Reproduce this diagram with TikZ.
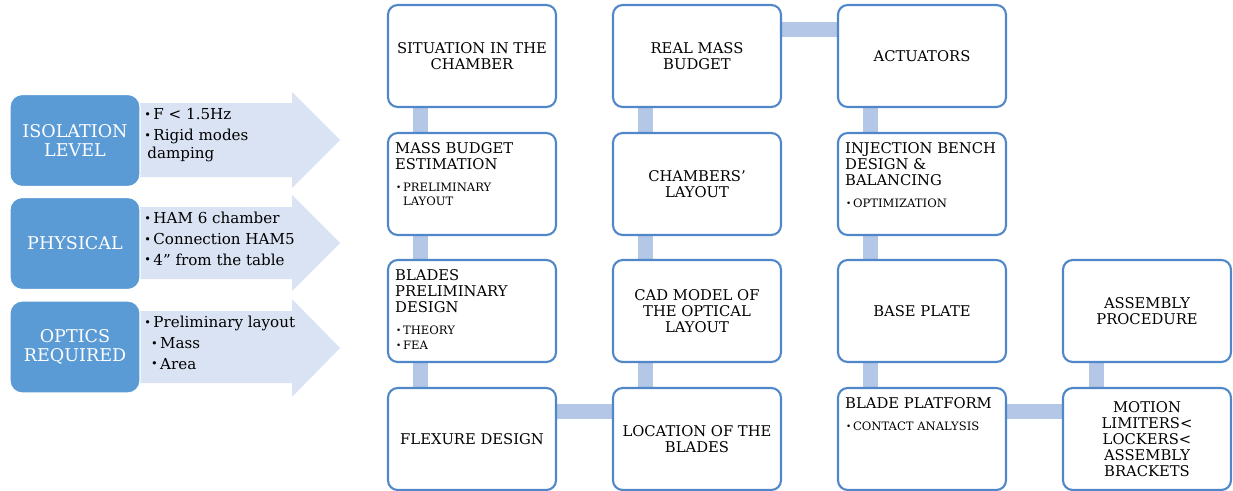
\documentclass[tikz,border=0pt]{standalone}
\usepackage{fontspec}
\setmainfont{DejaVu Serif}
\usepackage{graphicx}
\usetikzlibrary{positioning, backgrounds}
\definecolor{boxLine}{RGB}{80,135,200}
\definecolor{reqFill}{RGB}{91,155,213}
\definecolor{arrowFill}{RGB}{218,227,243}
\definecolor{linkFill}{RGB}{180,199,231}
\newcommand{\bul}{\makebox[0.6em][l]{\raisebox{0.15ex}{\scalebox{0.75}{\textbullet}}}}

\begin{document}
\begin{tikzpicture}[
  x=0.02cm, y=-0.02cm,
  font=\fontsize{8.4}{9.1}\selectfont,
  stage/.style={draw=boxLine, line width=1.2pt, fill=white, rounded corners=5.5pt, minimum width=3.36cm, minimum height=2.04cm, align=center, inner sep=2pt},
  reqbox/.style={fill=reqFill, draw=white, line width=0.6pt, rounded corners=7pt, minimum width=2.6cm, minimum height=1.84cm, align=center, text=white, font=\fontsize{10}{11}\selectfont},
  boxtitle/.style={anchor=north west, align=left, inner sep=0pt},
  boxitems/.style={align=left, inner sep=0pt, font=\fontsize{6.6}{8}\selectfont},
  arrowtext/.style={anchor=north west, align=left, inner sep=0pt, font=\fontsize{8.6}{11.9}\selectfont},
  linkbar/.style={draw=linkFill, line width=8.5pt}
]
\useasboundingbox (0,0) rectangle (1233,490);

% Requirements: arrows behind the blue boxes
\fill[arrowFill] (120,103) -- (292,103) -- (292,92) -- (340,140) -- (292,188) -- (292,177) -- (120,177) -- cycle;
\fill[arrowFill] (120,207) -- (292,207) -- (292,195) -- (340,243) -- (292,291) -- (292,279) -- (120,279) -- cycle;
\fill[arrowFill] (120,311) -- (292,311) -- (292,299) -- (340,348) -- (292,397) -- (292,383) -- (120,383) -- cycle;

\node[reqbox] (isolation) at (75,140.5) {ISOLATION\\LEVEL};
\node[reqbox] (physical)  at (75,243.5) {PHYSICAL};
\node[reqbox] (optics)    at (75,347)   {OPTICS\\REQUIRED};

\node[arrowtext] (isoNotes)  at (144,108) {\bul F < 1.5Hz\\\bul Rigid modes\\[-1.7pt]\hspace*{0.2em}damping};
\node[arrowtext] (physNotes) at (144,211.5) {\bul HAM 6 chamber\\\bul Connection HAM5\\\bul 4” from the table};
\node[arrowtext] (optNotes)  at (144,315.5) {\bul Preliminary layout\\\hspace*{0.45em}\bul Mass\\\hspace*{0.45em}\bul Area};

% Column 1
\node[stage] (situation) at (472,56) {SITUATION IN THE\\CHAMBER};
\node[stage] (massest)   at (472,184) {};
\node[boxtitle] (massestT) at ([shift={(4.5pt,-6pt)}]massest.north west) {MASS BUDGET\\ESTIMATION};
\node[boxitems, below right=7pt and 0.5pt of massestT.south west] (massestI) {\bul PRELIMINARY\\\hspace*{0.6em}LAYOUT};
\node[stage] (blades)    at (472,311) {};
\node[boxtitle] (bladesT) at ([shift={(4.5pt,-6pt)}]blades.north west) {BLADES\\PRELIMINARY\\DESIGN};
\node[boxitems, below right=7pt and 0.5pt of bladesT.south west] (bladesI) {\bul THEORY\\[0.6pt]\bul FEA};
\node[stage] (flexure)   at (472,439) {FLEXURE DESIGN};

% Column 2
\node[stage] (realmass)  at (697,56)  {REAL MASS\\BUDGET};
\node[stage] (chambers)  at (697,184) {CHAMBERS’\\LAYOUT};
\node[stage] (cad)       at (697,311) {CAD MODEL OF\\THE OPTICAL\\LAYOUT};
\node[stage] (location)  at (697,439) {LOCATION OF THE\\BLADES};

% Column 3
\node[stage] (actuators) at (922,56)  {ACTUATORS};
\node[stage] (injection) at (922,184) {};
\node[boxtitle] (injectionT) at ([shift={(4.5pt,-6pt)}]injection.north west) {INJECTION BENCH\\DESIGN \&\\BALANCING};
\node[boxitems, below right=7pt and 0.5pt of injectionT.south west] (injectionI) {\bul OPTIMIZATION};
\node[stage] (baseplate) at (922,311) {BASE PLATE};
\node[stage] (platform)  at (922,439) {};
\node[boxtitle] (platformT) at ([shift={(4.5pt,-6pt)}]platform.north west) {BLADE PLATFORM};
\node[boxitems, below right=7pt and 0.5pt of platformT.south west] (platformI) {\bul CONTACT ANALYSIS};

% Column 4
\node[stage] (assembly)  at (1147,311) {ASSEMBLY\\PROCEDURE};
\node[stage] (limiters)  at (1147,439) {MOTION\\LIMITERS<\\LOCKERS<\\ASSEMBLY\\BRACKETS};

% Links behind the boxes
\begin{scope}[on background layer]
\draw[linkbar] ([xshift=19.3pt]situation.south west) -- ([xshift=19.3pt]massest.north west);
\draw[linkbar] ([xshift=19.3pt]massest.south west) -- ([xshift=19.3pt]blades.north west);
\draw[linkbar] ([xshift=19.3pt]blades.south west) -- ([xshift=19.3pt]flexure.north west);
\draw[linkbar] ([yshift=-14pt]flexure.north east) -- ([yshift=-14pt]location.north west);
\draw[linkbar] ([xshift=19pt]location.north west) -- ([xshift=19pt]cad.south west);
\draw[linkbar] ([xshift=19pt]cad.north west) -- ([xshift=19pt]chambers.south west);
\draw[linkbar] ([xshift=19pt]chambers.north west) -- ([xshift=19pt]realmass.south west);
\draw[linkbar] ([yshift=-14.5pt]realmass.north east) -- ([yshift=-14.5pt]actuators.north west);
\draw[linkbar] ([xshift=19.3pt]actuators.south west) -- ([xshift=19.3pt]injection.north west);
\draw[linkbar] ([xshift=19.3pt]injection.south west) -- ([xshift=19.3pt]baseplate.north west);
\draw[linkbar] ([xshift=19.3pt]baseplate.south west) -- ([xshift=19.3pt]platform.north west);
\draw[linkbar] ([yshift=-14pt]platform.north east) -- ([yshift=-14pt]limiters.north west);
\draw[linkbar] ([xshift=19.5pt]limiters.north west) -- ([xshift=19.5pt]assembly.south west);
\end{scope}

\end{tikzpicture}
\end{document}
